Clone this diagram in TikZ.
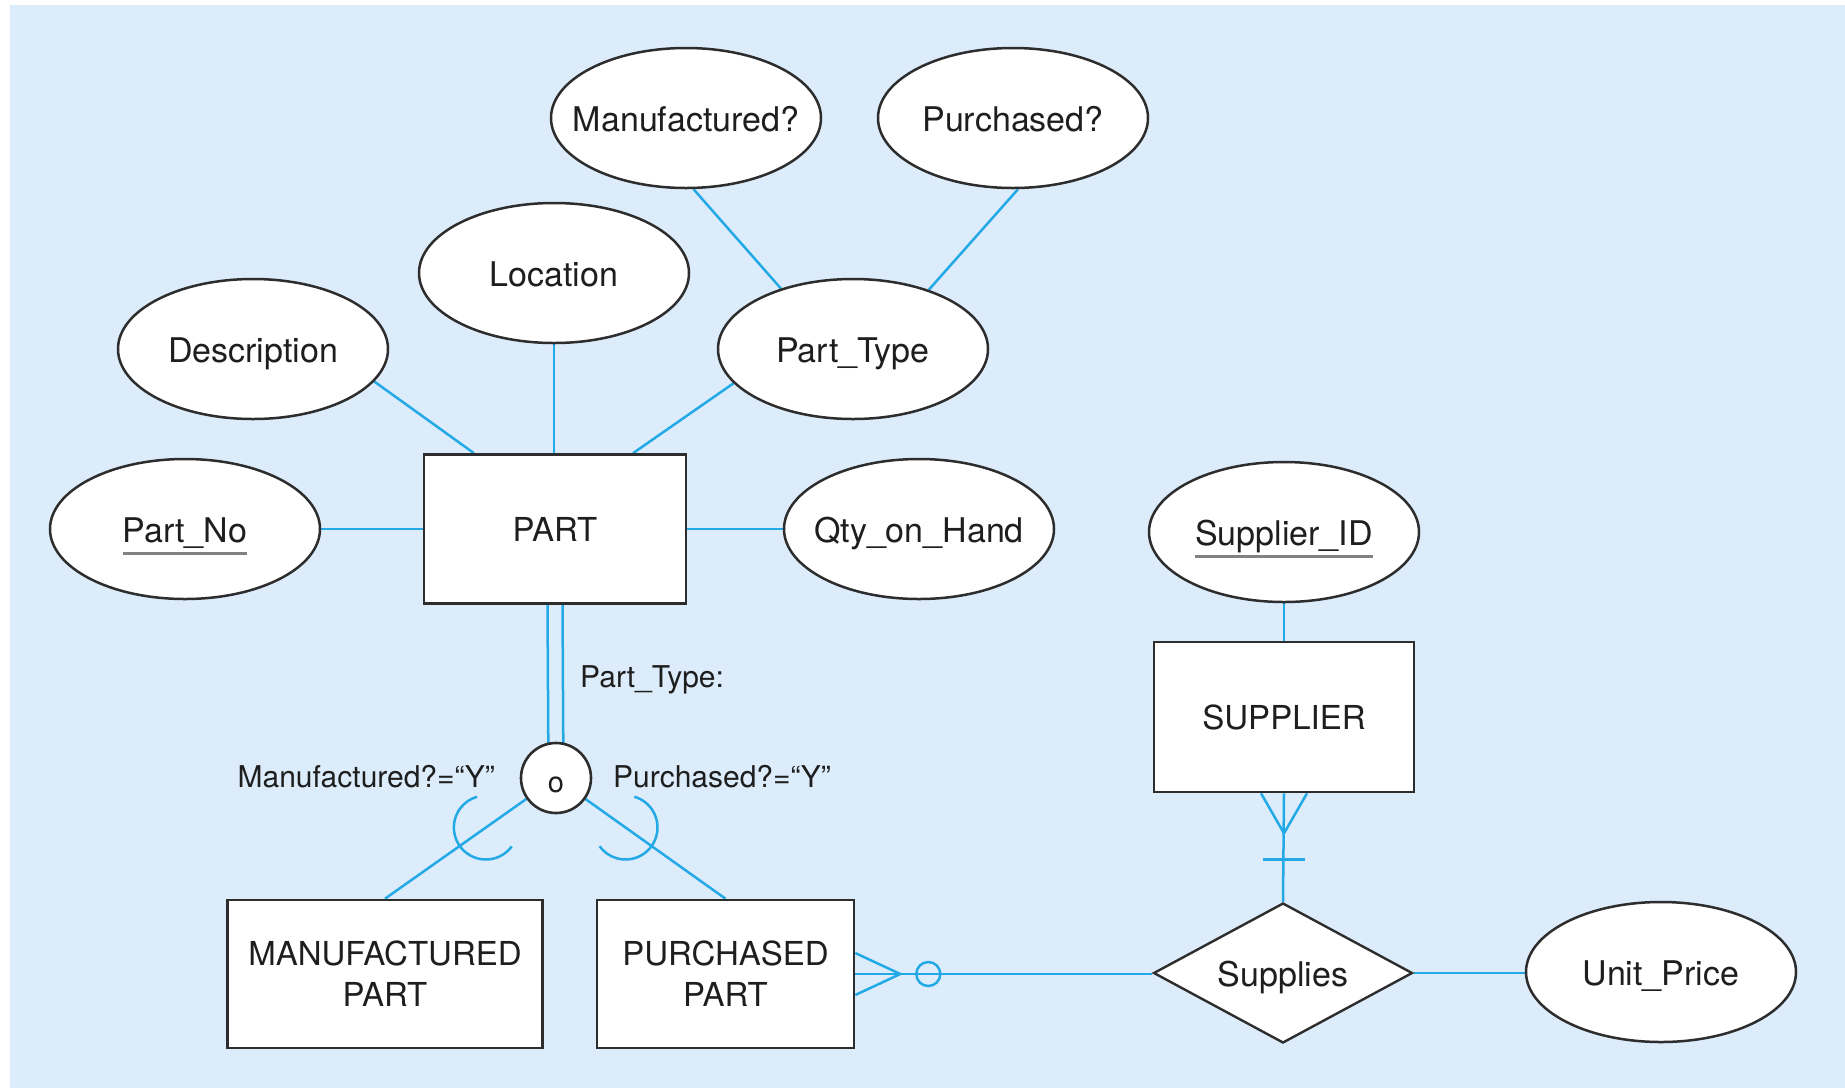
\documentclass[tikz,border=0pt]{standalone}
\usepackage{fontspec}
\setmainfont{TeX Gyre Heros}
\usetikzlibrary{shapes.geometric,calc}
\definecolor{bgblue}{RGB}{220,236,250}
\definecolor{lnblue}{RGB}{35,170,230}
\definecolor{edgegray}{RGB}{45,45,45}
\definecolor{txt}{RGB}{30,30,30}
\definecolor{ulgray}{RGB}{130,130,130}
\pgfdeclarelayer{bglayer}
\pgfdeclarelayer{edgelayer}
\pgfsetlayers{bglayer,edgelayer,main}
\newcommand\zw[1]{\makebox[0pt]{#1}}
\newcommand\gul[1]{\setbox0\hbox{#1}\rlap{\color{ulgray}\rule[-12pt]{\wd0}{3pt}}\box0}
\begin{document}
\begin{tikzpicture}[x=1pt,y=-1pt,
  attr/.style={ellipse, draw=edgegray, line width=2.5pt, fill=white,
    minimum width=270pt, minimum height=140pt, inner sep=0pt,
    font=\fontsize{34}{40}\selectfont, text=txt, text height=28pt, text depth=1pt},
  ent/.style={rectangle, draw=edgegray, line width=2.6pt, fill=white, inner sep=0pt,
    font=\fontsize{33}{41}\selectfont, text=txt, align=center},
  rel/.style={diamond, draw=edgegray, line width=2.4pt, fill=white, inner sep=0pt,
    minimum width=259pt, minimum height=140pt,
    font=\fontsize{34}{40}\selectfont, text=txt, text height=28pt, text depth=1pt},
  isac/.style={circle, draw=edgegray, line width=2.6pt, fill=white, inner sep=0pt,
    minimum size=70pt, font=\fontsize{29}{34}\selectfont, text=txt,
    text height=30pt, text depth=1pt},
  lbl/.style={font=\fontsize{30}{35}\selectfont, text=txt, inner sep=0pt},
  conn/.style={draw=lnblue, line width=2.5pt}]
\useasboundingbox (0,0) rectangle (1845,1088);
\begin{pgfonlayer}{bglayer}
  \fill[bgblue] (10,5) rectangle (1845,1088);
\end{pgfonlayer}

% attributes
\node[attr] (mfq)  at (686,118)  {\zw{Manufactured?}};
\node[attr] (pq)   at (1013,118) {\zw{Purchased?}};
\node[attr] (loc)  at (554,273)  {\zw{Location}};
\node[attr] (desc) at (253,349)  {\zw{Description}};
\node[attr] (pt)   at (853,349)  {\zw{Part\_Type}};
\node[attr] (pn)   at (185,529)  {\zw{\gul{Part\_No}}};
\node[attr] (qty)  at (919,529)  {\zw{Qty\_on\_Hand}};
\node[attr] (sid)  at (1284,532) {\zw{\gul{Supplier\_ID}}};
\node[attr] (up)   at (1661,972) {\zw{Unit\_Price}};

% entities
\node[ent, minimum width=262pt, minimum height=149pt] (part) at (555,529) {PART};
\node[ent, minimum width=260pt, minimum height=150pt] (sup)  at (1284,717) {SUPPLIER};
\node[ent, minimum width=315pt, minimum height=148pt] (mp)   at (385,974) {MANUFACTURED\\PART};
\node[ent, minimum width=257pt, minimum height=148pt] (pp)   at (725.5,974) {PURCHASED\\PART};

% relationship
\node[rel] (supplies) at (1283,973) {\zw{Supplies}};

% disjointness circle
\node[isac] (isa) at (556,778) {\zw{o}};

% labels
\node[lbl, anchor=base east] (lm) at (495,787) {Manufactured?=“Y”};
\node[lbl, anchor=base west] (lp) at (613,787) {Purchased?=“Y”};
\node[lbl, anchor=base west] (lt) at (580,687) {Part\_Type:};

\begin{pgfonlayer}{edgelayer}
  \draw[conn] (desc.-15) -- ([xshift=-81pt]part.north);
  \draw[conn] (loc.south) -- (loc.south |- part.north);
  \draw[conn] (pt.196.6) -- ([xshift=78pt]part.north);
  \draw[conn] (mfq.-84) -- (pt.140);
  \draw[conn] (pq.-86) -- (pt.38);
  \draw[conn] (pn.east) -- (pn.east -| part.west);
  \draw[conn] (qty.west) -- (qty.west -| part.east);
  % total specialization (double line)
  \draw[conn] ($(part.south)+(-7.5,0)$) -- ($(isa.center)+(-7.5,0)$);
  \draw[conn] ($(part.south)+(7.5,0)$) -- ($(isa.center)+(7.5,0)$);
  % subtypes
  \draw[conn] (isa) -- (mp.north);
  \draw[conn] (isa) -- (pp.north);
  \coordinate (cl) at ($(isa.center)!0.41!(mp.north)$);
  \coordinate (cr) at ($(isa.center)!0.41!(pp.north)$);
  \draw[conn] ([shift={(36:32)}]cl) arc[start angle=36, end angle=254, radius=32];
  \draw[conn] ([shift={(-74:32)}]cr) arc[start angle=-74, end angle=144, radius=32];
  % supplier side
  \draw[conn] (sid.south) -- (sup.north);
  \draw[conn] (sup.south) -- (supplies.north);
  \draw[conn] ($(sup.south)+(-23,0)$) -- ($(sup.south)+(0,40)$) -- ($(sup.south)+(23,0)$);
  \draw[conn] ($(sup.south)+(-21,66)$) -- ($(sup.south)+(21,66)$);
  % purchased part side
  \draw[conn] (pp.east) -- (pp.east -| supplies.west);
  \draw[conn] ($(pp.east)+(0,-21)$) -- ($(pp.east)+(45,0)$) -- ($(pp.east)+(0,21)$);
  \draw[conn] ($(pp.east)+(73,0)$) circle[radius=12];
  \draw[conn] (supplies.east) -- (supplies.east -| up.west);
\end{pgfonlayer}
\end{tikzpicture}
\end{document}
